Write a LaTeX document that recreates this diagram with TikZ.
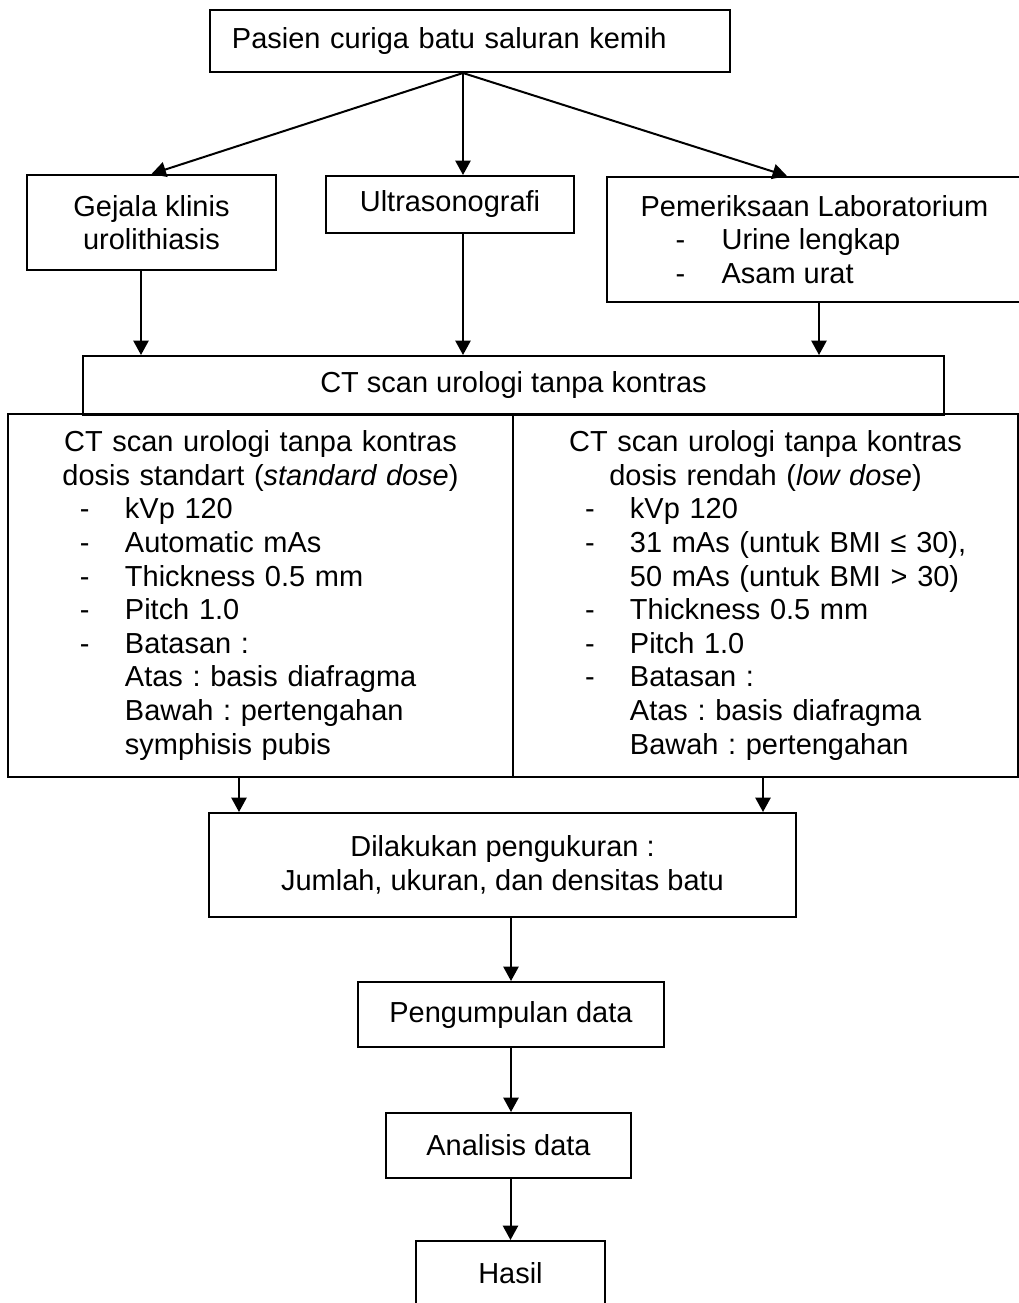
\documentclass[tikz,border=0pt]{standalone}
\usepackage{fontspec}
\setmainfont{Liberation Sans}
\frenchspacing
\usetikzlibrary{arrows.meta,calc,positioning}
\newcommand{\ctline}[2]{\makebox[126.25mm][l]{\hspace*{18mm}\makebox[11.25mm][l]{#1}#2}}
\newcommand{\labline}[1]{\hspace*{8.75mm}\makebox[11.5mm][l]{-}#1}
\tikzset{
  every node/.style={font=\fontsize{20.6pt}{23.9pt}\selectfont},
  box/.style={draw=black, line width=0.5mm, inner sep=0pt, align=center},
  flow/.style={line width=0.5mm, -{Triangle[length=3.6mm, width=3.8mm]}}
}

\begin{document}
\begin{tikzpicture}[x=0.25mm, y=-0.25mm]
  \useasboundingbox (0,0) rectangle (1019,1303);

  % top row
  \node[box, align=left, text width=119mm, inner xsep=5.5mm, minimum height=15.5mm] (pasien) at (470,41) {Pasien curiga batu saluran kemih};

  \node[box, minimum width=62.25mm, minimum height=23.75mm] (gejala) at (151.5,222.5) {Gejala klinis\\urolithiasis};
  \node[box, minimum width=62mm, minimum height=14.25mm] (usg) at (450,204.5) {Ultrasonografi};
  \node[box, align=left, minimum width=103.75mm, minimum height=31.25mm] (lab) at (814.5,239.5)
    {Pemeriksaan Laboratorium\\\labline{Urine lengkap}\\\labline{Asam urat}};

  \node[box, minimum width=215.25mm, minimum height=14.75mm] (ct) at (513.5,385.5) {CT scan urologi tanpa kontras};

  % two protocols
  \node[box, text width=126.25mm, minimum height=90.75mm] (std) at (260.5,595.5)
    {CT scan urologi tanpa kontras\\
     dosis standart (\textit{standard dose})\\
     \ctline{-}{kVp 120}\\
     \ctline{-}{Automatic mAs}\\
     \ctline{-}{Thickness 0.5 mm}\\
     \ctline{-}{Pitch 1.0}\\
     \ctline{-}{Batasan :}\\
     \ctline{}{Atas : basis diafragma}\\
     \ctline{}{Bawah : pertengahan}\\
     \ctline{}{symphisis pubis}};
  \node[box, text width=126.25mm, minimum height=90.75mm] (low) at (765.5,595.5)
    {CT scan urologi tanpa kontras\\
     dosis rendah (\textit{low dose})\\
     \ctline{-}{kVp 120}\\
     \ctline{-}{31 mAs (untuk BMI ≤ 30),}\\
     \ctline{}{50 mAs (untuk BMI > 30)}\\
     \ctline{-}{Thickness 0.5 mm}\\
     \ctline{-}{Pitch 1.0}\\
     \ctline{-}{Batasan :}\\
     \ctline{}{Atas : basis diafragma}\\
     \ctline{}{Bawah : pertengahan}};

  % bottom chain
  \node[box, minimum width=146.75mm, minimum height=26mm] (ukur) at (502.5,865) {Dilakukan pengukuran :\\Jumlah, ukuran, dan densitas batu};
  \node[box, minimum width=76.5mm, minimum height=16.25mm] (kumpul) at (511,1014.5) {Pengumpulan data};
  \node[box, minimum width=61.25mm, minimum height=16.25mm] (analisis) at (508.5,1145.5) {Analisis data};
  \node[box, minimum width=47.25mm, minimum height=16.25mm] (hasil) at (510.5,1273.5) {Hasil};

  % arrows
  \coordinate (fork) at ([xshift=-1.75mm]pasien.south);
  \draw[flow] (fork) -- (gejala.north);
  \draw[flow] (fork) -- (fork |- usg.north);
  \draw[flow] (fork) -- ([xshift=-6.875mm]lab.north);
  \draw[flow] ([xshift=-2.625mm]gejala.south) -- ([xshift=-2.625mm]gejala.south |- ct.north);
  \draw[flow] (fork |- usg.south) -- (fork |- ct.north);
  \draw[flow] ([xshift=1.125mm]lab.south) -- ([xshift=1.125mm]lab.south |- ct.north);
  \draw[flow] ([xshift=-5.375mm]std.south) -- ([xshift=-5.375mm]std.south |- ukur.north);
  \draw[flow] ([xshift=-0.625mm]low.south) -- ([xshift=-0.625mm]low.south |- ukur.north);
  \draw[flow] (kumpul.north |- ukur.south) -- (kumpul.north);
  \draw[flow] (kumpul.south) -- (kumpul.south |- analisis.north);
  \draw[flow] (hasil.north |- analisis.south) -- (hasil.north);
\end{tikzpicture}
\end{document}
